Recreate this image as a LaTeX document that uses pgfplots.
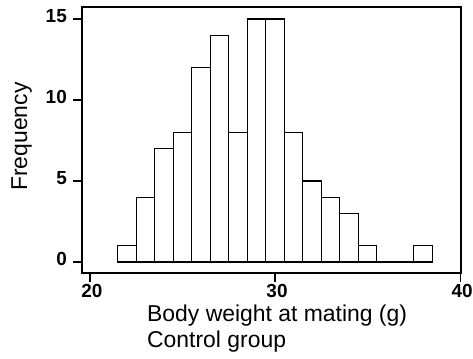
\documentclass[border=0pt]{standalone}
\usepackage{pgfplots}
\pgfplotsset{compat=1.18}
\usepackage{fontspec}
\setmainfont{Liberation Sans}
\begin{document}
\begin{tikzpicture}[x=1bp,y=1bp]
\path[use as bounding box] (0,0) rectangle (473,358);
\begin{axis}[
  at={(82bp,85bp)}, anchor=south west,
  scale only axis, width=379bp, height=266bp,
  xmin=19.57, xmax=40.05, ymin=-0.68, ymax=15.74,
  xtick={20,30,40}, ytick={0,5,10,15},
  tick pos=left, tick align=outside, major tick length=9bp,
  axis line style={line width=1.1pt},
  every tick/.style={line width=1.1pt, black},
  /pgf/number format/assume math mode=true,
  ticklabel style={font=\fontsize{19}{19}\selectfont\bfseries, inner sep=1bp},
  yticklabel style={anchor=east, xshift=-5bp, yshift=3bp},
  xticklabel style={anchor=north, xshift=2bp, yshift=-1bp},
  xlabel={Body weight at mating (g)\\Control group},
  xlabel style={font=\fontsize{23}{26}\selectfont, align=left, inner sep=0pt,
    at={(axis description cs:0.1715,-0.120)}, anchor=north west},
  ylabel={Frequency},
  ylabel style={font=\fontsize{23}{26}\selectfont, inner sep=0pt, rotate=0,
    at={(axis description cs:-0.145,0.513)}, anchor=base},
]
\addplot[ybar interval, fill=white, draw=black, line width=1.1pt] coordinates {
(21.5,1) (22.5,4) (23.5,7) (24.5,8) (25.5,12) (26.5,14) (27.5,8) (28.5,15)
(29.5,15) (30.5,8) (31.5,5) (32.5,4) (33.5,3) (34.5,1) (35.5,0) (36.5,0)
(37.5,1) (38.5,1)
};
\end{axis}
\end{tikzpicture}
\end{document}
